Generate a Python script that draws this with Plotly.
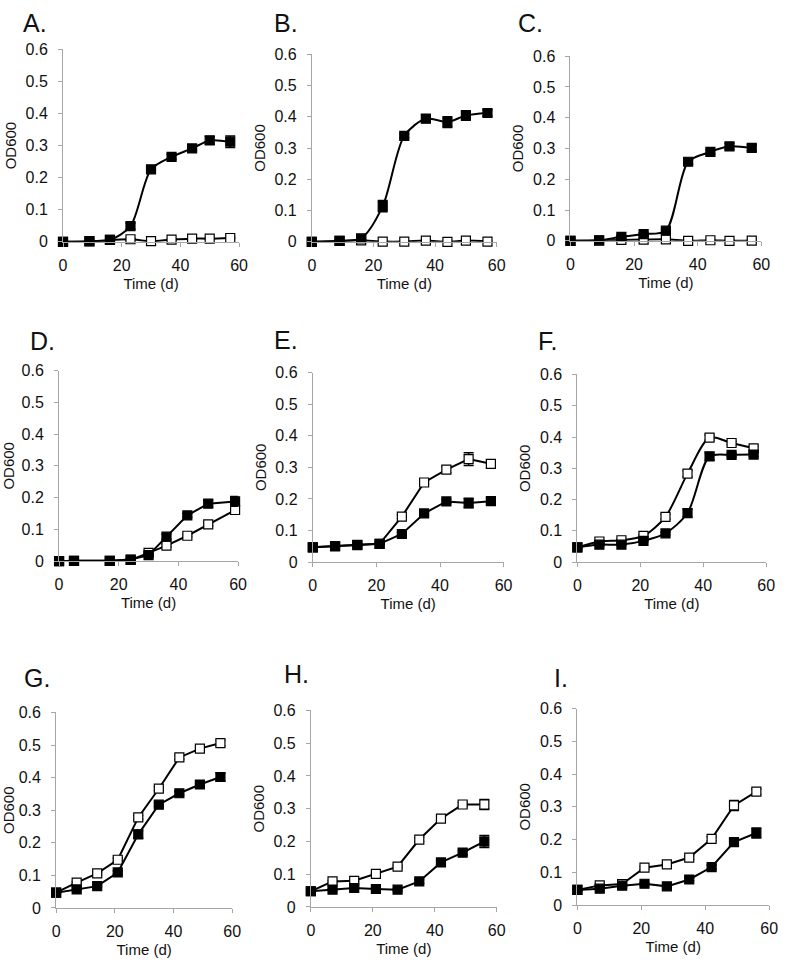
import plotly.graph_objects as go

# ---------------- data ----------------
panels = ["A.", "B.", "C.", "D.", "E.", "F.", "G.", "H.", "I."]

time_ABC = [0, 9, 16, 23, 30, 37, 44, 50, 57]
time_D = [0, 5, 17, 24, 30, 36, 43, 50, 59]
time_EFGHI = [0, 7, 14, 21, 28, 35, 42, 49, 56]

A_filled = [0.0, 0.002, 0.006, 0.049, 0.226, 0.265, 0.291, 0.316, 0.312]
A_filled_err = [0.002, 0.002, 0.003, 0.010, 0.010, 0.008, 0.006, 0.012, 0.018]
A_open = [0.0, 0.001, 0.006, 0.008, 0.002, 0.007, 0.010, 0.010, 0.012]
A_open_err = [0.001, 0.001, 0.002, 0.002, 0.002, 0.002, 0.002, 0.002, 0.002]

B_filled = [0.0, 0.003, 0.011, 0.114, 0.339, 0.394, 0.383, 0.404, 0.412]
B_filled_err = [0.002, 0.002, 0.003, 0.018, 0.006, 0.012, 0.017, 0.015, 0.010]
B_open = [0.0, 0.003, 0.005, 0.001, 0.001, 0.004, 0.0, 0.004, 0.001]
B_open_err = [0.001, 0.001, 0.002, 0.001, 0.001, 0.001, 0.001, 0.001, 0.001]

C_filled = [0.0, 0.002, 0.013, 0.022, 0.033, 0.257, 0.289, 0.307, 0.302]
C_filled_err = [0.002, 0.002, 0.003, 0.004, 0.006, 0.008, 0.007, 0.010, 0.010]
C_open = [0.0, 0.001, 0.003, 0.004, 0.005, 0.0, 0.002, 0.0, 0.001]
C_open_err = [0.001, 0.001, 0.001, 0.001, 0.001, 0.001, 0.001, 0.001, 0.001]

D_filled = [0.0, 0.001, 0.001, 0.005, 0.019, 0.077, 0.144, 0.181, 0.188]
D_filled_err = [0.001, 0.001, 0.001, 0.002, 0.003, 0.008, 0.006, 0.010, 0.015]
D_open = [0.0, 0.001, 0.001, 0.004, 0.026, 0.049, 0.080, 0.116, 0.161]
D_open_err = [0.001, 0.001, 0.001, 0.002, 0.003, 0.004, 0.004, 0.005, 0.010]

E_filled = [0.047, 0.050, 0.055, 0.058, 0.089, 0.154, 0.192, 0.187, 0.193]
E_filled_err = [0.002, 0.002, 0.002, 0.002, 0.004, 0.005, 0.006, 0.015, 0.010]
E_open = [0.047, 0.051, 0.054, 0.058, 0.144, 0.252, 0.293, 0.326, 0.311]
E_open_err = [0.002, 0.002, 0.002, 0.002, 0.005, 0.006, 0.010, 0.020, 0.012]

F_filled = [0.047, 0.056, 0.056, 0.068, 0.092, 0.157, 0.338, 0.343, 0.344]
F_filled_err = [0.002, 0.003, 0.003, 0.003, 0.004, 0.012, 0.012, 0.006, 0.006]
F_open = [0.047, 0.066, 0.070, 0.084, 0.145, 0.283, 0.398, 0.381, 0.364]
F_open_err = [0.002, 0.003, 0.003, 0.004, 0.008, 0.010, 0.008, 0.005, 0.006]

G_filled = [0.047, 0.057, 0.067, 0.109, 0.226, 0.317, 0.352, 0.379, 0.402]
G_filled_err = [0.002, 0.003, 0.003, 0.005, 0.012, 0.006, 0.006, 0.005, 0.012]
G_open = [0.047, 0.078, 0.106, 0.148, 0.278, 0.366, 0.462, 0.489, 0.506]
G_open_err = [0.002, 0.003, 0.004, 0.005, 0.006, 0.006, 0.006, 0.005, 0.008]

H_filled = [0.048, 0.053, 0.058, 0.055, 0.053, 0.078, 0.136, 0.166, 0.200]
H_filled_err = [0.002, 0.003, 0.003, 0.003, 0.003, 0.005, 0.006, 0.006, 0.018]
H_open = [0.048, 0.078, 0.080, 0.101, 0.123, 0.206, 0.270, 0.313, 0.313]
H_open_err = [0.002, 0.003, 0.003, 0.004, 0.004, 0.006, 0.006, 0.006, 0.015]

I_filled = [0.046, 0.050, 0.059, 0.065, 0.057, 0.078, 0.116, 0.192, 0.220]
I_filled_err = [0.002, 0.002, 0.003, 0.003, 0.003, 0.004, 0.006, 0.010, 0.015]
I_open = [0.046, 0.060, 0.064, 0.114, 0.124, 0.145, 0.202, 0.304, 0.346]
I_open_err = [0.002, 0.002, 0.003, 0.004, 0.004, 0.005, 0.006, 0.015, 0.008]

y_ticks = [0, 0.1, 0.2, 0.3, 0.4, 0.5, 0.6]
y_ticklabels = ["0", "0.1", "0.2", "0.3", "0.4", "0.5", "0.6"]
x_ticks = [0, 20, 40, 60]
x_ticklabels = ["0", "20", "40", "60"]

series = [
    (time_ABC, A_filled, A_filled_err, A_open, A_open_err, "spline"),
    (time_ABC, B_filled, B_filled_err, B_open, B_open_err, "spline"),
    (time_ABC, C_filled, C_filled_err, C_open, C_open_err, "spline"),
    (time_D, D_filled, D_filled_err, D_open, D_open_err, "linear"),
    (time_EFGHI, E_filled, E_filled_err, E_open, E_open_err, "linear"),
    (time_EFGHI, F_filled, F_filled_err, F_open, F_open_err, "spline"),
    (time_EFGHI, G_filled, G_filled_err, G_open, G_open_err, "linear"),
    (time_EFGHI, H_filled, H_filled_err, H_open, H_open_err, "linear"),
    (time_EFGHI, I_filled, I_filled_err, I_open, I_open_err, "linear"),
]

# ---------------- layout (pixel boxes of plot areas) ----------------
W, H = 787, 972
boxes = [  # x0, x1, y0(top), y1(bottom)
    (60, 239, 42, 238), (313, 501, 47, 238), (576, 770, 49, 237),
    (56, 238, 369, 563), (314, 508, 371, 564), (583, 775, 373, 564),
    (53, 232, 717, 916), (312, 501, 715, 915), (583, 778, 713, 913),
]
letter_pos = [  # left x, center y
    (17, 15), (273, 15), (521, 15),
    (24, 339), (273, 338), (541, 339),
    (18, 682), (283, 678), (557, 682),
]

FONT = "Liberation Sans, Arial, sans-serif"
AX = "#a6a6a6"
TXT = "#111111"

fig = go.Figure()
layout = dict(
    width=W, height=H, margin=dict(l=0, r=0, t=0, b=0),
    paper_bgcolor="white", plot_bgcolor="white", showlegend=False,
    font=dict(family=FONT, size=15, color=TXT),
)
annotations = []

for i, (box, s) in enumerate(zip(boxes, series)):
    n = i + 1
    xa = "x" if n == 1 else f"x{n}"
    ya = "y" if n == 1 else f"y{n}"
    t, fy, fe, oy, oe, shape = s
    x0, x1, yt, yb = box
    layout["xaxis" if n == 1 else f"xaxis{n}"] = dict(
        domain=[x0 / W, x1 / W], anchor=ya, range=[0, 60],
        tickvals=x_ticks, ticktext=x_ticklabels, ticks="outside", ticklen=4,
        tickcolor=AX, showline=True, linecolor=AX, linewidth=1, showgrid=False,
        zeroline=False, ticklabelstandoff=5,
        tickfont=dict(size=16, family=FONT, color=TXT),
        title=dict(text="Time (d)", standoff=5, font=dict(size=15, family=FONT, color=TXT)),
    )
    layout["yaxis" if n == 1 else f"yaxis{n}"] = dict(
        domain=[1 - yb / H, 1 - yt / H], anchor=xa, range=[0, 0.6],
        tickvals=y_ticks, ticktext=y_ticklabels, ticks="outside", ticklen=4,
        tickcolor=AX, showline=True, linecolor=AX, linewidth=1, showgrid=False,
        zeroline=False, ticklabelstandoff=7,
        tickfont=dict(size=16, family=FONT, color=TXT),
        title=dict(text="OD600", standoff=5, font=dict(size=15, family=FONT, color=TXT)),
    )
    for yv, ev, fill in ((oy, oe, "white"), (fy, fe, "black")):
        fig.add_trace(go.Scatter(
            x=t, y=yv, xaxis=xa, yaxis=ya, mode="lines+markers",
            line=dict(color="black", width=2, shape=shape, smoothing=0.8),
            marker=dict(symbol="square", size=9, color=fill,
                        line=dict(color="black", width=1.2)),
            error_y=dict(type="data", array=ev, color="black", thickness=1.6, width=5),
            cliponaxis=False,
        ))
    lx, ly = letter_pos[i]
    annotations.append(dict(
        text=panels[i], x=lx / W, y=1 - ly / H, xref="paper", yref="paper",
        xanchor="left", yanchor="middle", showarrow=False,
        font=dict(size=25, family=FONT, color=TXT),
    ))

layout["annotations"] = annotations
fig.update_layout(**layout)
fig.write_html(
    "out.html",
    config={"displayModeBar": False},
    post_script="document.body.style.margin='0';document.body.style.padding='0';"
                "document.documentElement.style.overflow='hidden';",
)
